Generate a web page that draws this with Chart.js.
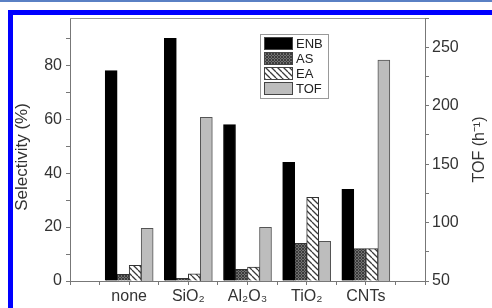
<!DOCTYPE html>
<html lang="en">
<head>
<meta charset="UTF-8">
<title>Selectivity and TOF</title>
<script src="https://cdn.jsdelivr.net/npm/chart.js"></script>
<style>
  body { margin: 0; background: #fff; }
  .topline { position: absolute; left: 0; top: 0; width: 492px; height: 2px; background: #5a80c4; }
  .frame { position: absolute; left: 8px; top: 10px; width: 600px; height: 400px;
           border-left: 5px solid #0000ff; border-top: 5px solid #0000ff; }
  #wrap { position: absolute; left: 0; top: 0; width: 492px; height: 308px; }
</style>
</head>
<body>
<div class="topline"></div>
<div class="frame"></div>
<div id="wrap"><canvas id="chart" width="492" height="308"></canvas></div>

<script>
// data
var categories = ['none', 'SiO₂', 'Al₂O₃', 'TiO₂', 'CNTs'];
var enb = [78, 90, 58, 44, 34];        // selectivity %, left axis
var asSel = [2.5, 1, 4.3, 14, 12];     // selectivity %, left axis
var eaSel = [5.8, 2.7, 5.2, 31, 12];   // selectivity %, left axis
var tof = [95, 190, 96, 84, 239];      // TOF h-1, right axis
var leftLabels = [0, 20, 40, 60, 80];
var rightLabels = [50, 100, 150, 200, 250];

function points(arr) {
  return arr.map(function (v, i) { return { x: i + 1, y: v }; });
}

// small hatch patterns for the AS and EA bars
function hatch(bg, fg, size, lw, both) {
  var c = document.createElement('canvas');
  c.width = size; c.height = size;
  var g = c.getContext('2d');
  g.fillStyle = bg;
  g.fillRect(0, 0, size, size);
  g.strokeStyle = fg;
  g.lineWidth = lw;
  g.beginPath();
  for (var k = -size; k <= size; k += size) {
    g.moveTo(k, 0); g.lineTo(k + size, size);
    if (both) { g.moveTo(k + size, 0); g.lineTo(k, size); }
  }
  g.stroke();
  return g.createPattern(c, 'repeat');
}

var asFill = hatch('#727272', '#3c3c3c', 3, 1, true);
var eaFill = hatch('#ffffff', '#3a3a3a', 6, 1.3, false);

var FONT = '"Liberation Sans", Arial, sans-serif';
Chart.defaults.font.family = FONT;
Chart.defaults.color = '#333';

function vText(ctx, text, x, y, size) {
  ctx.save();
  ctx.translate(x, y);
  ctx.rotate(-Math.PI / 2);
  ctx.font = size + 'px ' + FONT;
  ctx.fillStyle = '#333';
  ctx.textAlign = 'center';
  ctx.textBaseline = 'middle';
  ctx.fillText(text, 0, 0);
  ctx.restore();
}

var extras = {
  id: 'extras',
  afterDraw: function (chart) {
    var ctx = chart.ctx, a = chart.chartArea;
    ctx.save();
    // top frame line of the plot
    ctx.strokeStyle = '#999';
    ctx.lineWidth = 1;
    ctx.beginPath();
    ctx.moveTo(a.left, a.top + 0.5);
    ctx.lineTo(a.right, a.top + 0.5);
    ctx.stroke();

    // legend inside the plot
    var x = a.left + 190, y = a.top + 16;
    ctx.fillStyle = '#fff';
    ctx.fillRect(x, y, 68, 64);
    ctx.strokeStyle = '#999';
    ctx.strokeRect(x + 0.5, y + 0.5, 68, 64);
    ctx.font = '13px ' + FONT;
    ctx.textBaseline = 'middle';
    chart.data.datasets.forEach(function (ds, i) {
      var ry = y + 3 + i * 15;
      ctx.fillStyle = ds.backgroundColor;
      ctx.fillRect(x + 4, ry, 29, 13);
      ctx.strokeStyle = '#444';
      ctx.strokeRect(x + 4.5, ry + 0.5, 28, 12);
      ctx.fillStyle = '#222';
      ctx.fillText(ds.label, x + 36, ry + 7);
    });
    ctx.restore();

    // axis titles, both reading bottom to top
    vText(ctx, 'Selectivity (%)', 22, 157, 17);
    vText(ctx, 'TOF (h⁻¹)', 480, (a.top + a.bottom) / 2, 16);
  }
};

var barBase = { borderWidth: 1, barThickness: 12, xAxisID: 'x' };

new Chart(document.getElementById('chart').getContext('2d'), {
  type: 'bar',
  data: {
    datasets: [
      Object.assign({ label: 'ENB', data: points(enb), backgroundColor: '#000', borderColor: '#000', yAxisID: 'y' }, barBase),
      Object.assign({ label: 'AS', data: points(asSel), backgroundColor: asFill, borderColor: '#333', yAxisID: 'y' }, barBase),
      Object.assign({ label: 'EA', data: points(eaSel), backgroundColor: eaFill, borderColor: '#333', yAxisID: 'y' }, barBase),
      Object.assign({ label: 'TOF', data: points(tof), backgroundColor: '#bdbdbd', borderColor: '#555', yAxisID: 'y1' }, barBase)
    ]
  },
  options: {
    responsive: false,
    animation: false,
    layout: { padding: { top: 18, left: 0, right: 0, bottom: 0 } },
    plugins: { legend: { display: false }, tooltip: { enabled: false } },
    scales: {
      x: {
        type: 'linear', min: 0, max: 6, offset: false,
        grid: { drawOnChartArea: false, tickLength: 4, color: '#777', offset: false },
        border: { color: '#777' },
        ticks: {
          stepSize: 0.5, autoSkip: false, maxRotation: 0, padding: 2,
          font: { size: 16 }, color: '#333',
          callback: function (v) {
            return (Number.isInteger(v) && v >= 1 && v <= categories.length) ? categories[v - 1] : '';
          }
        },
        afterFit: function (s) { s.height = 27; }
      },
      y: {
        position: 'left', min: 0, max: 97.5,
        grid: { drawOnChartArea: false, tickLength: 4, color: '#777' },
        border: { color: '#777' },
        ticks: {
          stepSize: 10, includeBounds: false, padding: 4,
          font: { size: 16 }, color: '#333',
          callback: function (v) { return leftLabels.indexOf(v) >= 0 ? v : ''; }
        },
        afterFit: function (s) { s.width = 70; }
      },
      y1: {
        position: 'right', min: 50, max: 275,
        grid: { drawOnChartArea: false, tickLength: 4, color: '#777' },
        border: { color: '#777' },
        ticks: {
          stepSize: 25, includeBounds: false, padding: 3,
          font: { size: 16 }, color: '#333',
          callback: function (v) { return rightLabels.indexOf(v) >= 0 ? v : ''; }
        },
        afterFit: function (s) { s.width = 67; }
      }
    }
  },
  plugins: [extras]
});
</script>
</body>
</html>
